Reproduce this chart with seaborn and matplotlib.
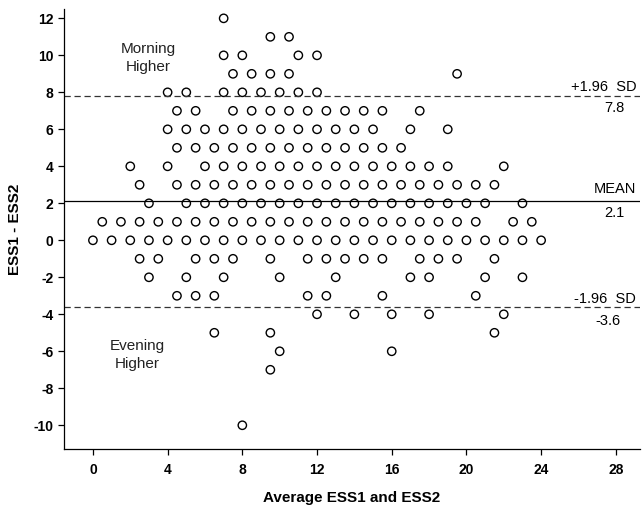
import matplotlib
matplotlib.use('Agg')
import matplotlib.pyplot as plt
import seaborn as sns
import pandas as pd

sns.set_style('ticks')
plt.rcParams['font.family'] = ['Liberation Sans', 'DejaVu Sans']
plt.rcParams['axes.unicode_minus'] = False
plt.rcParams['text.color'] = 'black'
plt.rcParams['axes.labelcolor'] = 'black'
plt.rcParams['xtick.color'] = 'black'
plt.rcParams['ytick.color'] = 'black'
plt.rcParams['axes.edgecolor'] = 'black'

# average ESS for each difference value (ESS1 - ESS2)
d_p12 = [7]
d_p11 = [9.5, 10.5]
d_p10 = [7, 8, 11, 12]
d_p9 = [7.5, 8.5, 9.5, 10.5, 19.5]
d_p8 = [4, 5, 7, 8, 9, 10, 11, 12]
d_p7 = [4.5, 5.5, 7.5, 8.5, 9.5, 10.5, 11.5, 12.5, 13.5, 14.5, 15.5, 17.5]
d_p6 = [4, 5, 6, 7, 8, 9, 10, 11, 12, 13, 14, 15, 17, 19]
d_p5 = [4.5, 5.5, 6.5, 7.5, 8.5, 9.5, 10.5, 11.5, 12.5, 13.5, 14.5, 15.5, 16.5]
d_p4 = [2, 4, 6, 7, 8, 9, 10, 11, 12, 13, 14, 15, 16, 17, 18, 19, 22]
d_p3 = [2.5, 4.5, 5.5, 6.5, 7.5, 8.5, 9.5, 10.5, 11.5, 12.5, 13.5, 14.5,
        15.5, 16.5, 17.5, 18.5, 19.5, 20.5, 21.5]
d_p2 = [3, 5, 6, 7, 8, 9, 10, 11, 12, 13, 14, 15, 16, 17, 18, 19, 20, 21, 23]
d_p1 = [0.5, 1.5, 2.5, 3.5, 4.5, 5.5, 6.5, 7.5, 8.5, 9.5, 10.5, 11.5, 12.5,
        13.5, 14.5, 15.5, 16.5, 17.5, 18.5, 19.5, 20.5, 22.5, 23.5]
d_0 = [0, 1, 2, 3, 4, 5, 6, 7, 8, 9, 10, 11, 12, 13, 14, 15, 16, 17, 18,
       19, 20, 21, 22, 23, 24]
d_m1 = [2.5, 3.5, 5.5, 6.5, 7.5, 9.5, 11.5, 12.5, 13.5, 14.5, 15.5, 17.5,
        18.5, 19.5, 21.5]
d_m2 = [3, 5, 7, 10, 13, 17, 18, 21, 23]
d_m3 = [4.5, 5.5, 6.5, 11.5, 12.5, 15.5, 20.5]
d_m4 = [12, 14, 16, 18, 22]
d_m5 = [6.5, 9.5, 21.5]
d_m6 = [10, 16]
d_m7 = [9.5]
d_m10 = [8]

rows = {12: d_p12, 11: d_p11, 10: d_p10, 9: d_p9, 8: d_p8, 7: d_p7, 6: d_p6,
        5: d_p5, 4: d_p4, 3: d_p3, 2: d_p2, 1: d_p1, 0: d_0, -1: d_m1,
        -2: d_m2, -3: d_m3, -4: d_m4, -5: d_m5, -6: d_m6, -7: d_m7, -10: d_m10}

mean_diff = 2.1
upper_loa = 7.8
lower_loa = -3.6

avg = []
diff = []
for d, xs in rows.items():
    for x in xs:
        avg.append(x)
        diff.append(d)
df = pd.DataFrame({'avg': avg, 'diff': diff})

fig = plt.figure(figsize=(6.43, 5.05), dpi=100)
ax = fig.add_axes([0.0995, 0.111, 0.896, 0.871])

sns.scatterplot(data=df, x='avg', y='diff', ax=ax, marker='o', s=36,
                facecolor='none', edgecolor='black', linewidth=1.0)

ax.axhline(mean_diff, color='black', lw=0.9)
ax.axhline(upper_loa, color='#333333', lw=0.9, ls=(0, (5, 3)))
ax.axhline(lower_loa, color='#333333', lw=0.9, ls=(0, (5, 3)))

ax.set_xlim(-1.55, 29.3)
ax.set_ylim(-11.28, 12.5)
ax.set_xticks(range(0, 29, 4))
ax.set_yticks(range(-10, 13, 2))
for lab in ax.get_xticklabels() + ax.get_yticklabels():
    lab.set_fontweight('bold')
    lab.set_fontsize(10)
ax.tick_params(length=4, width=0.9)
ax.tick_params(axis='x', pad=6)
sns.despine(ax=ax)
for s in ['left', 'bottom']:
    ax.spines[s].set_linewidth(0.9)

ax.set_xlabel('Average ESS1 and ESS2', fontsize=11, fontweight='bold', labelpad=10)
ax.set_ylabel('ESS1 - ESS2', fontsize=11, fontweight='bold', labelpad=8)

# side labels for the limit lines
ax.text(29.1, upper_loa + 0.5, '+1.96  SD', ha='right', va='center', fontsize=10.5)
ax.text(27.9, upper_loa - 0.65, '7.8', ha='center', va='center', fontsize=10.5)
ax.text(29.1, mean_diff + 0.65, 'MEAN', ha='right', va='center', fontsize=10.5)
ax.text(27.9, mean_diff - 0.6, '2.1', ha='center', va='center', fontsize=10.5)
ax.text(29.1, lower_loa + 0.45, '-1.96  SD', ha='right', va='center', fontsize=10.5)
ax.text(27.6, lower_loa - 0.75, '-3.6', ha='center', va='center', fontsize=10.5)

ax.text(2.95, 9.85, 'Morning\nHigher', ha='center', va='center', fontsize=11,
        linespacing=1.3, color='#222222')
ax.text(2.36, -6.2, 'Evening\nHigher', ha='center', va='center', fontsize=11,
        linespacing=1.3, color='#222222')

fig.savefig('out.png', dpi=100)
